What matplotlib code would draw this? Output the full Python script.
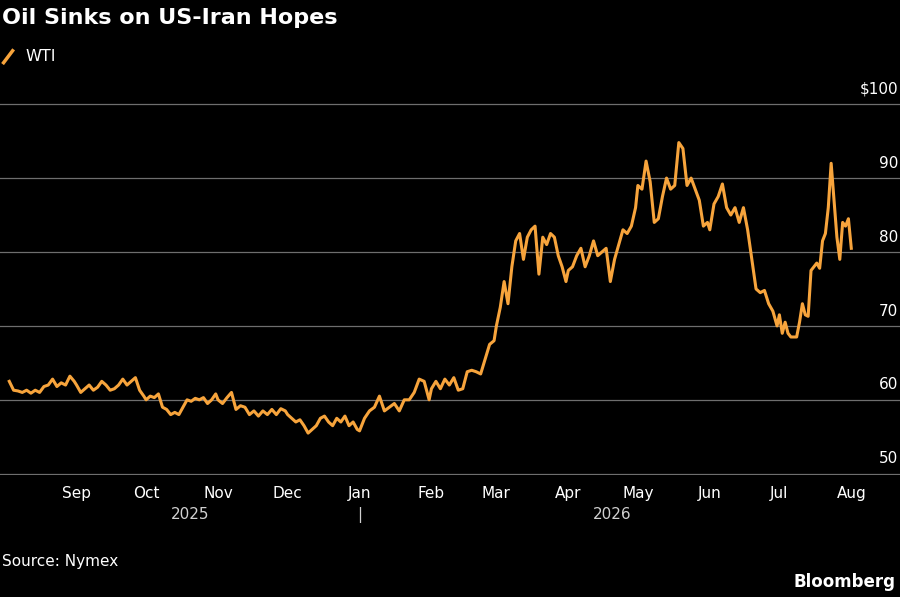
import numpy as np
import pandas as pd
import matplotlib
matplotlib.use("Agg")
from matplotlib import pyplot as plt
from matplotlib.lines import Line2D
import matplotlib.transforms as mtransforms

# WTI price readings, grouped by month (spread evenly across each month)
aug25 = [62.5, 61.3, 61.2, 61.0, 61.3, 60.9, 61.3, 61.0, 61.8, 62.0, 62.8, 61.8, 62.3, 62.0, 63.2, 62.5]
sep25 = [62.0, 61.0, 61.5, 62.0, 61.3, 61.7, 62.5, 62.0, 61.3, 61.5, 62.0, 62.8, 62.0, 62.5, 63.0, 61.3, 60.5]
oct25 = [60.0, 60.5, 60.3, 60.8, 59.0, 58.7, 58.0, 58.3, 58.0, 59.0, 60.0, 59.8, 60.2, 60.0, 60.3, 59.5, 60.0, 60.8]
nov25 = [60.0, 59.5, 60.3, 61.0, 58.7, 59.2, 59.0, 58.0, 58.5, 57.8, 58.5, 58.0, 58.7, 58.0, 58.8, 58.5]
dec25 = [58.0, 57.5, 57.0, 57.3, 56.5, 55.5, 56.0, 56.5, 57.5, 57.8, 57.0, 56.5, 57.5, 57.0, 57.8, 56.5, 57.0, 56.0]
jan26 = [55.8, 57.5, 58.5, 59.0, 60.5, 58.5, 59.0, 59.5, 58.5, 60.0, 60.0, 61.0, 62.8, 62.5, 60.0]
feb26 = [61.5, 62.5, 61.5, 62.8, 62.0, 63.0, 61.3, 61.5, 63.8, 64.0, 63.8, 63.5, 65.5, 67.5, 68.0]
mar26 = [70.0, 72.5, 76.0, 73.0, 78.0, 81.5, 82.5, 79.0, 82.0, 83.0, 83.5, 77.0, 82.0, 81.0, 82.5, 82.0, 79.5, 78.0, 76.0]
apr26 = [77.5, 78.0, 79.5, 80.5, 78.0, 79.5, 81.5, 79.5, 80.0, 80.5, 76.0, 79.0, 81.0, 83.0, 82.5, 83.5, 86.0]
may26 = [89.0, 88.5, 92.3, 89.5, 84.0, 84.5, 87.5, 90.0, 88.5, 89.0, 94.8, 94.0, 89.0, 90.0, 88.5, 87.0, 83.5, 84.0]
jun26 = [83.0, 86.5, 87.5, 89.2, 86.0, 85.0, 86.0, 84.0, 86.0, 83.0, 79.0, 75.0, 74.5, 74.8, 73.0, 72.0, 70.0]
jul26 = [71.5, 69.0, 70.5, 69.0, 68.5, 68.5, 68.5, 70.5, 73.0, 71.5, 71.3, 77.5, 78.0, 78.5, 77.8, 81.5,
         82.5, 86.0, 92.0, 87.0, 82.0, 79.0, 84.0, 83.5, 84.5, 80.5]

months = [("2025-08-03", "2025-08-31", aug25), ("2025-09-01", "2025-09-30", sep25),
          ("2025-10-01", "2025-10-31", oct25), ("2025-11-01", "2025-11-30", nov25),
          ("2025-12-01", "2025-12-31", dec25), ("2026-01-01", "2026-01-31", jan26),
          ("2026-02-01", "2026-02-28", feb26), ("2026-03-01", "2026-03-31", mar26),
          ("2026-04-01", "2026-04-30", apr26), ("2026-05-01", "2026-05-31", may26),
          ("2026-06-01", "2026-06-30", jun26), ("2026-07-01", "2026-08-01", jul26)]

dates, prices = [], []
for start, end, vals in months:
    d = pd.date_range(start, end, periods=len(vals))
    dates.extend(d)
    prices.extend(vals)

tick_months = pd.date_range("2025-09-01", "2026-08-01", freq="MS")
tick_labels = [d.strftime("%b") for d in tick_months]
yticks = [50, 60, 70, 80, 90, 100]
ylabels = ["50", "60", "70", "80", "90", "$100"]

orange = "#f7a43c"
fig = plt.figure(figsize=(9, 5.97), dpi=100, facecolor="black")
ax = fig.add_axes([0, 0.204, 1, 0.624])
ax.set_facecolor("black")
ax.plot(dates, prices, color=orange, lw=2.2, solid_joinstyle="round")
ax.set_xlim(pd.Timestamp("2025-07-30"), pd.Timestamp("2026-08-22"))
ax.set_ylim(49.8, 100.2)
for s in ax.spines.values():
    s.set_visible(False)
ax.set_yticks([])
for v in yticks:
    ax.axhline(v, color="#6e6e6e", lw=0.9, zorder=0)
for v, lab in zip(yticks, ylabels):
    ax.text(0.998, v + 1.0, lab, transform=mtransforms.blended_transform_factory(ax.transAxes, ax.transData),
            ha="right", va="bottom", color="white", fontsize=11)
ax.set_xticks(tick_months)
ax.set_xticklabels(tick_labels, color="white", fontsize=11)
ax.tick_params(axis="x", length=0, pad=8)
trans = mtransforms.blended_transform_factory(ax.transData, fig.transFigure)
ax.text(pd.Timestamp("2025-10-20"), 0.13, "2025", transform=trans, ha="center", color="#d0d0d0", fontsize=11)
ax.text(pd.Timestamp("2026-04-20"), 0.13, "2026", transform=trans, ha="center", color="#d0d0d0", fontsize=11)
ax.text(pd.Timestamp("2026-01-01"), 0.13, "|", transform=trans, ha="center", color="#d0d0d0", fontsize=11)

fig.text(0.002, 0.97, "Oil Sinks on US-Iran Hopes", color="white", fontsize=16, fontweight="bold", va="center")
fig.add_artist(Line2D([0.004, 0.014], [0.895, 0.915], color=orange, lw=2.5, transform=fig.transFigure))
fig.text(0.028, 0.905, "WTI", color="white", fontsize=11.5, va="center")
fig.text(0.002, 0.06, "Source: Nymex", color="white", fontsize=11, va="center")
fig.text(0.995, 0.025, "Bloomberg", color="white", fontsize=12, fontweight="bold", ha="right", va="center")

fig.savefig("out.png", dpi=100, facecolor="black")
